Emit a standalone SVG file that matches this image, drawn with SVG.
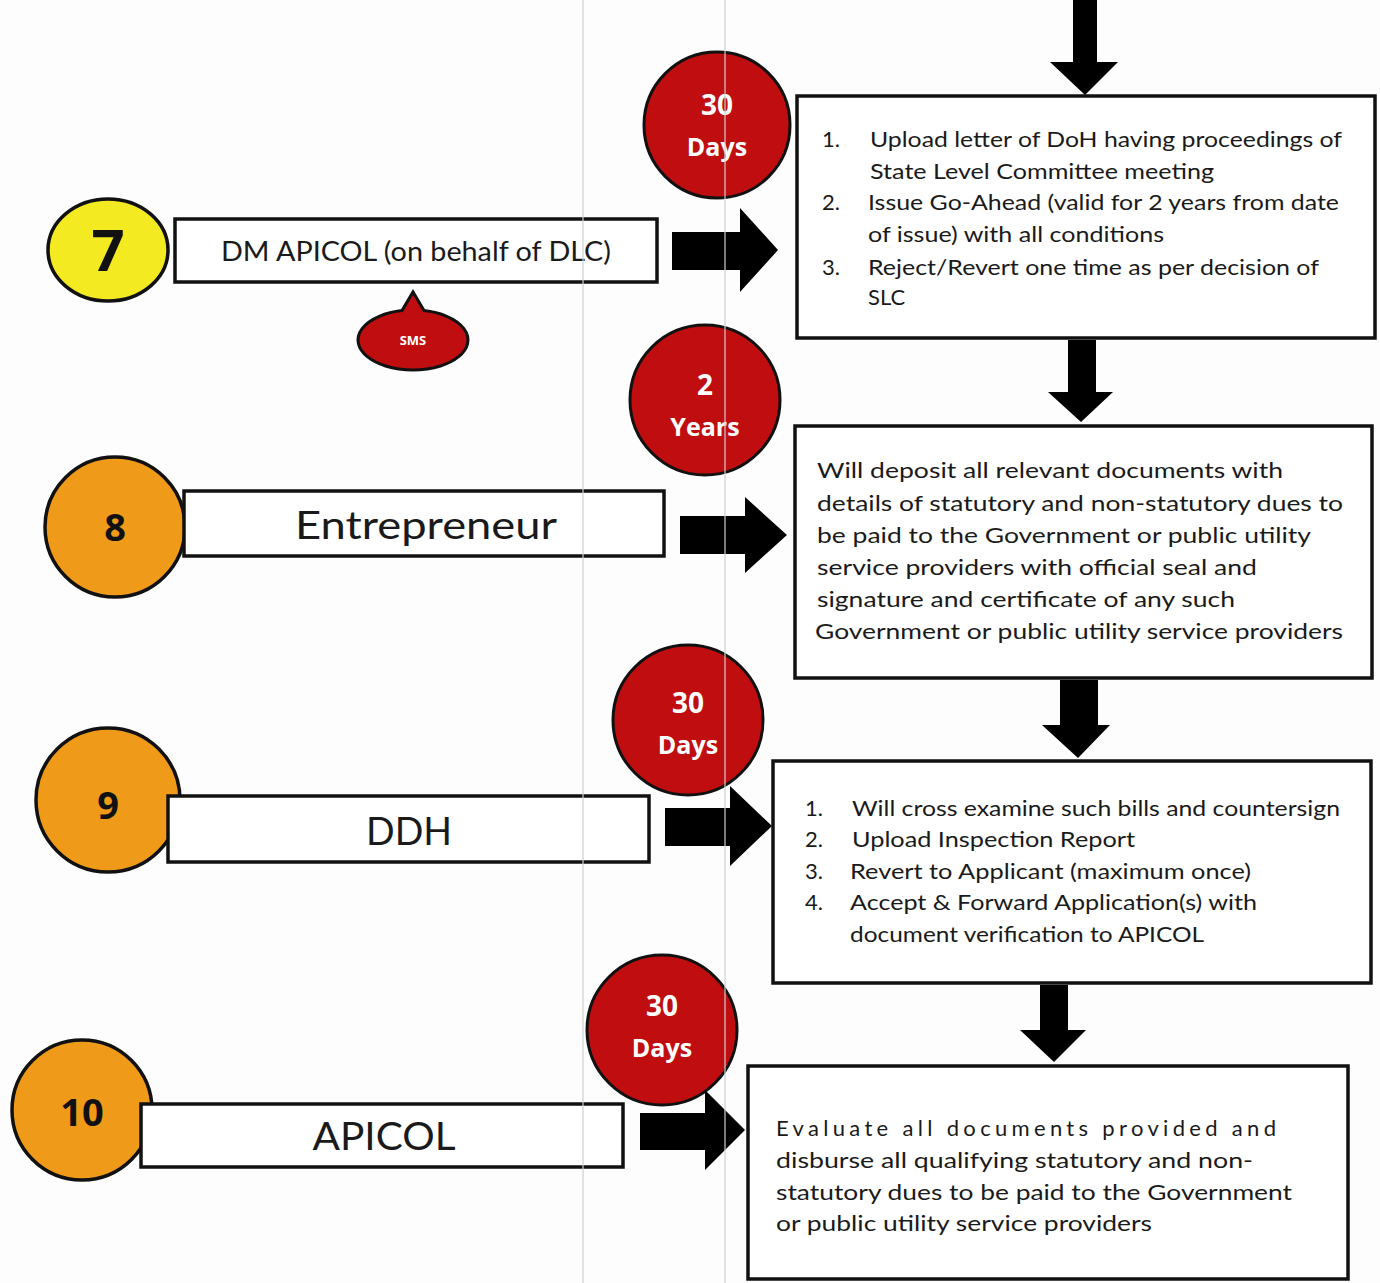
<svg xmlns="http://www.w3.org/2000/svg" width="1380" height="1283" viewBox="0 0 1380 1283">
<style>
.bg{fill:#fdfdfd}
.box{fill:#ffffff;stroke:#111;stroke-width:3.5}
.num{stroke:#111;stroke-width:3.5}
.yel{fill:#f4ea22}
.org{fill:#ef9a18}
.red{fill:#bf0d10;stroke:#111;stroke-width:3}
.arr{fill:#000}
.t{font-family:Lato,"Open Sans","Liberation Sans",sans-serif;fill:#1a1a1a}
.lbl{font-size:26px;text-anchor:middle}
.big{font-size:38px;text-anchor:middle}
.body{font-size:22px}
.nb{font-family:"Open Sans","Liberation Sans",sans-serif;font-weight:bold;fill:#111;text-anchor:middle}
.wt{font-family:"Open Sans","Liberation Sans",sans-serif;font-weight:bold;fill:#fff;text-anchor:middle}
.fold{stroke:#cfcfcf;stroke-width:1.5;opacity:0.8}
</style>
<rect class="bg" x="0" y="0" width="1380" height="1283"/>

<g id="connectors">
<polygon class="arr" points="1073,0 1097,0 1097,62 1118,62 1085,95 1050,62 1073,62"/>
<polygon class="arr" points="1068,340 1096,340 1096,392 1113,392 1081,422 1048,392 1068,392"/>
<polygon class="arr" points="1060,680 1098,680 1098,725 1110,725 1078,758 1042,725 1060,725"/>
<polygon class="arr" points="1040,985 1068,985 1068,1030 1086,1030 1054,1062 1020,1030 1040,1030"/>
<polygon class="arr" points="672,232 740,232 740,208 778,250 740,292 740,270 672,270"/>
<polygon class="arr" points="680,516 745,516 745,497 787,535 745,573 745,554 680,554"/>
<polygon class="arr" points="665,808 730,808 730,786 772,826 730,866 730,846 665,846"/>
<polygon class="arr" points="640,1113 705,1113 705,1090 745,1130 705,1170 705,1150 640,1150"/>
</g>

<g id="step7">
<ellipse class="num yel" cx="108" cy="250" rx="60" ry="51"/>
<text class="nb" x="108" y="271" font-size="58">7</text>
<rect class="box" x="175" y="219" width="482" height="63"/>
<text class="t lbl" x="416" y="261" textLength="390" lengthAdjust="spacingAndGlyphs">DM APICOL (on behalf of DLC)</text>
</g>

<g id="sms">
<path class="red" d="M424,310.6 A55,30 0 1 1 402,310.6 L413,292 Z"/>
<text class="wt" x="413" y="345" font-size="13">SMS</text>
</g>

<g id="time1">
<circle class="red" cx="717" cy="125" r="73"/>
<text class="wt" x="717" y="115" font-size="28">30</text>
<text class="wt" x="717" y="156" font-size="25">Days</text>
</g>

<g id="boxA">
<rect class="box" x="797" y="96" width="578" height="242"/>
<g class="t body">
<text x="822" y="147">1.</text>
<text x="870" y="147" textLength="472" lengthAdjust="spacingAndGlyphs">Upload letter of DoH having proceedings of</text>
<text x="870" y="179" textLength="344" lengthAdjust="spacingAndGlyphs">State Level Committee meeting</text>
<text x="822" y="210">2.</text>
<text x="868" y="210" textLength="471" lengthAdjust="spacingAndGlyphs">Issue Go-Ahead (valid for 2 years from date</text>
<text x="868" y="242" textLength="296" lengthAdjust="spacingAndGlyphs">of issue) with all conditions</text>
<text x="822" y="275">3.</text>
<text x="868" y="275" textLength="451" lengthAdjust="spacingAndGlyphs">Reject/Revert one time as per decision of</text>
<text x="868" y="305">SLC</text>
</g>
</g>

<g id="time2">
<circle class="red" cx="705" cy="400" r="75"/>
<text class="wt" x="705" y="395" font-size="28">2</text>
<text class="wt" x="705" y="436" font-size="25">Years</text>
</g>

<g id="step8">
<circle class="num org" cx="115" cy="527" r="70"/>
<rect class="box" x="184" y="491" width="480" height="65"/>
<text class="nb" x="115" y="541" font-size="38">8</text>
<text class="t big" x="426" y="539" textLength="262" lengthAdjust="spacingAndGlyphs">Entrepreneur</text>
</g>

<g id="boxB">
<rect class="box" x="795" y="426" width="577" height="252"/>
<g class="t body">
<text x="817" y="478" textLength="466" lengthAdjust="spacingAndGlyphs">Will deposit all relevant documents with</text>
<text x="817" y="511" textLength="526" lengthAdjust="spacingAndGlyphs">details of statutory and non-statutory dues to</text>
<text x="817" y="543" textLength="494" lengthAdjust="spacingAndGlyphs">be paid to the Government or public utility</text>
<text x="817" y="575" textLength="440" lengthAdjust="spacingAndGlyphs">service providers with official seal and</text>
<text x="817" y="607" textLength="418" lengthAdjust="spacingAndGlyphs">signature and certificate of any such</text>
<text x="815" y="639" textLength="528" lengthAdjust="spacingAndGlyphs">Government or public utility service providers</text>
</g>
</g>

<g id="time3">
<circle class="red" cx="688" cy="720" r="75"/>
<text class="wt" x="688" y="713" font-size="28">30</text>
<text class="wt" x="688" y="754" font-size="25">Days</text>
</g>

<g id="step9">
<circle class="num org" cx="108" cy="800" r="72"/>
<rect class="box" x="168" y="796" width="481" height="66"/>
<text class="nb" x="108" y="819" font-size="38">9</text>
<text class="t big" x="409" y="845" textLength="86" lengthAdjust="spacingAndGlyphs">DDH</text>
</g>

<g id="boxC">
<rect class="box" x="773" y="761" width="598" height="222"/>
<g class="t body">
<text x="805" y="816">1.</text>
<text x="852" y="816" textLength="488" lengthAdjust="spacingAndGlyphs">Will cross examine such bills and countersign</text>
<text x="805" y="847">2.</text>
<text x="852" y="847" textLength="283" lengthAdjust="spacingAndGlyphs">Upload  Inspection Report</text>
<text x="805" y="879">3.</text>
<text x="850" y="879" textLength="401" lengthAdjust="spacingAndGlyphs">Revert to Applicant (maximum once)</text>
<text x="805" y="910">4.</text>
<text x="850" y="910" textLength="407" lengthAdjust="spacingAndGlyphs">Accept &amp; Forward Application(s) with</text>
<text x="850" y="942" textLength="354" lengthAdjust="spacingAndGlyphs">document verification to APICOL</text>
</g>
</g>

<g id="time4">
<circle class="red" cx="662" cy="1030" r="75"/>
<text class="wt" x="662" y="1016" font-size="28">30</text>
<text class="wt" x="662" y="1057" font-size="25">Days</text>
</g>

<g id="step10">
<circle class="num org" cx="82" cy="1110" r="70"/>
<rect class="box" x="141" y="1104" width="482" height="63"/>
<text class="nb" x="82" y="1126" font-size="38">10</text>
<text class="t big" x="384" y="1150" textLength="143" lengthAdjust="spacingAndGlyphs">APICOL</text>
</g>

<g id="boxD">
<rect class="box" x="748" y="1066" width="600" height="213"/>
<g class="t body">
<text x="776" y="1136" textLength="500" lengthAdjust="spacing">Evaluate all documents provided and</text>
<text x="776" y="1168" textLength="477" lengthAdjust="spacingAndGlyphs">disburse all qualifying statutory and non-</text>
<text x="776" y="1200" textLength="516" lengthAdjust="spacingAndGlyphs">statutory dues to be paid to the Government</text>
<text x="776" y="1231" textLength="376" lengthAdjust="spacingAndGlyphs">or public utility service providers</text>
</g>
</g>

<line class="fold" x1="583" y1="0" x2="583" y2="1283"/>
<line class="fold" x1="725" y1="0" x2="725" y2="1283"/>
</svg>
